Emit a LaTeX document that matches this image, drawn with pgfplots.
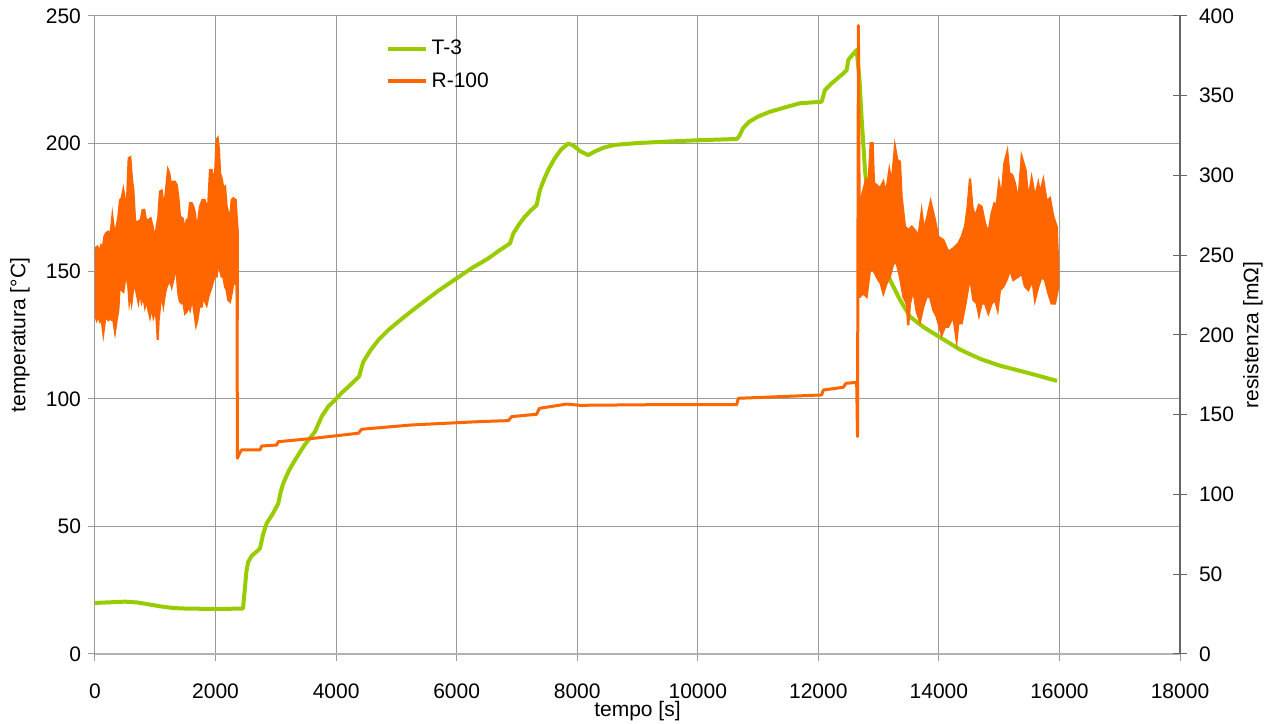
\documentclass[border=0pt]{standalone}
\usepackage{fontspec}
\setmainfont{Liberation Sans}
\usepackage{pgfplots}
\pgfplotsset{compat=1.18}

\definecolor{tgreen}{HTML}{99CC00}
\definecolor{rorange}{HTML}{FF6600}
\definecolor{gridgray}{HTML}{999999}
\newcommand{\lbl}{\fontsize{10.5}{12}\selectfont}

\pgfplotsset{
  base/.style={
    scale only axis, width=542.5pt, height=319pt,
    xmin=0, xmax=18000,
    scaled ticks=false,
    tick label style={font=\lbl},
    label style={font=\lbl},
    /pgf/number format/assume math mode=true,
    /pgf/number format/1000 sep={},
  }
}

\begin{document}
\begin{tikzpicture}
% left axis: temperature
\begin{axis}[base,
  ymin=0, ymax=250, xtick distance=2000, ytick distance=50,
  axis x line*=bottom, axis y line*=left,
  grid=major, grid style={gridgray, line width=0.5pt},
  x axis line style={color=black!30, line width=1pt, -},
  y axis line style={color=gridgray, line width=0.5pt, -},
  tick align=outside, major tick length=3.5pt,
  tick style={gridgray, line width=0.5pt},
  xticklabel style={yshift=-8pt},
  xlabel={tempo [s]}, ylabel={temperatura [°C]},
  xlabel style={at={(axis description cs:0.5,-0.0893)}, anchor=center},
  ylabel style={at={(axis description cs:-0.0691,0.5)}, anchor=center},
]
\coordinate (sw) at (rel axis cs:0,0);
\coordinate (ne) at (rel axis cs:1,1);
\addplot[tgreen, line width=2pt, line join=round] coordinates {
(0,20.0) (200,20.2) (500,20.5) (700,20.2) (900,19.4) (1100,18.6) (1300,18.0)
(1500,17.8) (1800,17.7) (2200,17.7) (2455,17.8) (2480,24) (2510,32) (2540,36)
(2600,38.5) (2700,40.5) (2737,41.4) (2790,47) (2848,51.2) (2950,55) (3041,59)
(3080,63.5) (3124,66.9) (3220,72) (3318,76) (3480,82) (3650,87.1) (3760,93)
(3870,97) (3981,99.5) (4100,102.5) (4203,104.7) (4380,108.7) (4420,112)
(4451,114.5) (4570,119) (4700,123) (4860,126.8) (5032,130.2) (5220,133.8)
(5419,137.4) (5700,142.4) (6000,147.2) (6250,151.2) (6525,155) (6700,158)
(6885,160.9) (6940,164.8) (7040,168.5) (7133,171.4) (7230,173.8) (7327,175.9)
(7350,178.5) (7382,181.8) (7450,186) (7520,189.7) (7620,194) (7730,197.6)
(7852,200.1) (7950,199) (8050,197) (8184,195.5) (8300,197) (8450,198.5)
(8626,199.5) (9000,200.2) (9500,200.8) (10000,201.3) (10650,201.8) (10690,203)
(10750,206) (10850,208.5) (11000,210.6) (11200,212.5) (11450,214.2)
(11695,215.8) (12055,216.4) (12080,218.5) (12110,221) (12221,223.6)
(12414,227.5) (12470,228.8) (12497,232.8) (12560,234.6) (12636,236.7)
(12680,226) (12718,210) (12773,190) (12801,183) (12900,171) (13000,161.5)
(13100,153) (13188,146.6) (13350,139) (13520,132.2) (13750,128) (13990,124.5)
(14350,119.3) (14465,118) (14700,115.5) (15010,113) (15500,110) (15960,107)
};
\end{axis}
% right axis: resistance
\begin{axis}[base,
  ymin=0, ymax=400, ytick distance=50,
  axis x line=none, axis y line*=right,
  y axis line style={color=black!60, line width=0.9pt, -},
  tick align=center, major tick length=7pt,
  tick style={black!60, line width=0.5pt},
  yticklabel style={xshift=2.5pt},
  ylabel={resistenza [mΩ]},
  ylabel style={at={(axis description cs:1.0673,0.5)}, anchor=center},
  legend style={draw=none, fill=none, font=\lbl, at={(rel axis cs:0.262,0.976)},
    anchor=north west, row sep=3.5pt, cells={anchor=west}},
  legend image code/.code={\draw[#1, line width=2pt] (0pt,0pt) -- (19pt,0pt);},
]
\addlegendimage{tgreen}
\addlegendentry{T-3}
\addplot[rorange, fill=rorange, line width=1.1pt, line join=miter, forget plot] coordinates {
(0,254.3) (39,255.4) (72,252.2) (100,255.8) (127,253.3) (155,261.7) (182,263.7)
(221,264.8) (260,263.7) (288,274.2) (315,265.8) (348,265.8) (387,274.2)
(415,284.6) (442,285.7) (470,290.9) (498,284.6) (525,278.4) (559,310.8)
(586,311.4) (614,297.2) (636,290.9) (664,272.1) (691,270.0) (719,271.1)
(758,272.1) (791,278.4) (818,278.4) (846,272.1) (885,272.1) (923,273.1)
(957,267.9) (995,259.6) (1023,267.9) (1051,274.2) (1078,289.9) (1106,290.5)
(1134,282.6) (1161,284.6) (1189,295.1) (1211,303.5) (1233,301.4) (1255,295.1)
(1288,296.1) (1327,296.1) (1355,294.0) (1382,286.7) (1410,274.2) (1454,273.1)
(1493,265.8) (1521,272.1) (1548,272.1) (1576,282.6) (1604,282.6) (1631,280.5)
(1659,276.3) (1687,265.8) (1714,272.1) (1742,280.5) (1781,284.6) (1819,284.6)
(1852,280.5) (1880,282.6) (1908,303.5) (1935,303.5) (1963,298.2) (1991,300.3)
(2018,322.3) (2035,323.3) (2057,316.0) (2074,301.4) (2101,298.2) (2129,292.0)
(2157,293.0) (2184,280.5) (2212,276.3) (2240,272.1) (2267,284.6) (2295,285.7)
(2334,284.6) (2350,274.2) (2367,265.8)
(2367,209.4) (2350,231.3) (2322,232.4) (2295,232.4) (2267,226.1) (2240,220.9)
(2212,221.9) (2184,228.2) (2157,230.3) (2129,236.6) (2101,236.6) (2074,240.8)
(2046,247.0) (2018,236.6) (1991,236.6) (1963,234.5) (1935,230.3) (1908,227.2)
(1880,224.0) (1852,218.8) (1825,220.9) (1797,226.1) (1770,217.8) (1731,217.8)
(1698,209.4) (1676,206.3) (1631,218.8) (1604,221.9) (1576,215.7) (1548,217.8)
(1521,214.6) (1493,213.6) (1465,220.9) (1438,219.9) (1410,220.9) (1382,226.1)
(1355,238.7) (1327,240.8) (1300,234.5) (1272,230.3) (1244,234.5) (1217,232.4)
(1189,230.3) (1161,226.1) (1134,218.8) (1106,226.1) (1078,217.8) (1056,209.4)
(1040,196.9) (1023,209.4) (995,215.7) (968,211.5) (940,217.8) (912,211.5)
(885,215.7) (857,221.9) (829,217.8) (802,224.0) (774,220.9) (747,228.2)
(719,220.9) (691,226.1) (664,230.3) (636,230.3) (608,220.9) (592,226.1)
(570,220.9) (553,230.3) (525,236.6) (498,234.5) (470,227.2) (442,228.2)
(415,234.5) (387,215.7) (359,209.4) (332,202.1) (304,209.4) (276,209.4)
(249,210.5) (221,209.4) (194,211.5) (166,209.4) (138,201.1) (111,209.4)
(83,208.4) (55,211.5) (28,209.4) (0,213.6)
};
\addplot[rorange, fill=rorange, line width=1.1pt, line join=miter, forget plot] coordinates {
(12663,285) (12719,286.7) (12790,297.2) (12829,291.9) (12868,320.2) (12901,320.2)
(12923,295.1) (12967,294.0) (13023,291.9) (13078,296.1) (13122,288.8)
(13178,303.4) (13216,295.1) (13271,318.1) (13310,309.7) (13354,308.7)
(13382,286.7) (13437,267.9) (13492,265.8) (13548,267.9) (13603,265.8)
(13659,261.6) (13714,277.3) (13753,265.8) (13808,274.2) (13863,283.6)
(13935,272.1) (13990,261.6) (14073,259.6) (14156,252.2) (14239,254.3)
(14322,257.4) (14378,261.6) (14433,267.9) (14477,280.4) (14516,298.2)
(14555,280.4) (14599,274.2) (14665,281.5) (14709,280.4) (14765,270.0)
(14820,263.7) (14875,276.3) (14920,282.5) (14958,281.5) (14997,295.1)
(15041,286.7) (15085,307.6) (15135,314.9) (15168,301.3) (15218,300.3)
(15262,295.1) (15318,283.6) (15373,311.8) (15439,303.4) (15484,284.6)
(15539,298.2) (15594,286.7) (15649,295.1) (15677,288.8) (15732,297.2)
(15788,283.6) (15843,285.7) (15898,274.2) (15954,267.9) (15981,242.9)
(15981,230.3) (15926,219.8) (15870,219.8) (15815,226.1) (15760,234.5)
(15705,236.6) (15649,230.3) (15594,222.0) (15550,234.5) (15484,228.2)
(15428,230.3) (15373,238.7) (15318,236.6) (15235,234.5) (15179,240.8)
(15124,234.5) (15069,230.3) (15013,228.2) (14975,215.7) (14931,222.0)
(14875,219.8) (14820,213.5) (14765,219.8) (14709,219.8) (14665,212.5)
(14627,219.8) (14571,222.0) (14516,236.6) (14433,217.8) (14378,207.3)
(14322,207.3) (14294,196.8) (14239,211.5) (14156,205.2) (14101,205.2)
(14046,200.0) (13963,211.5) (13907,215.7) (13852,224.0) (13797,224.0)
(13742,217.8) (13686,208.4) (13631,214.6) (13575,228.2) (13520,219.8)
(13492,206.0) (13465,219.8) (13410,224.0) (13354,236.6) (13299,245.0)
(13244,245.0) (13188,236.6) (13133,232.4) (13078,226.1) (13034,232.4)
(12995,234.5) (12912,240.8) (12857,240.8) (12801,224.0) (12746,226.1)
(12691,224.0) (12663,224)
};
\addplot[rorange, line width=1.5pt, line join=round] coordinates {
(2355,260) (2362,122.7) (2400,126) (2433,127.9) (2737,127.9) (2765,130.4)
(3013,131) (3041,133.1) (3622,135.2) (4369,138.4) (4424,140.9) (5254,143.6)
(6387,145.7) (6857,146.3) (6912,148.8) (7327,150.3) (7371,154.0) (7825,156.7)
(8046,155.9) (9262,156.3) (10645,156.3) (10673,160.3) (12055,162.4)
(12083,165.5) (12414,167.2) (12459,169.7) (12636,170.3) (12650,136.3)
(12665,394) (12680,250)
};
\addlegendentry{R-100}
\end{axis}
\pgfresetboundingbox
\useasboundingbox ([xshift=-47.5pt,yshift=-35pt]sw) rectangle ([xshift=48pt,yshift=8pt]ne);
\end{tikzpicture}
\end{document}
